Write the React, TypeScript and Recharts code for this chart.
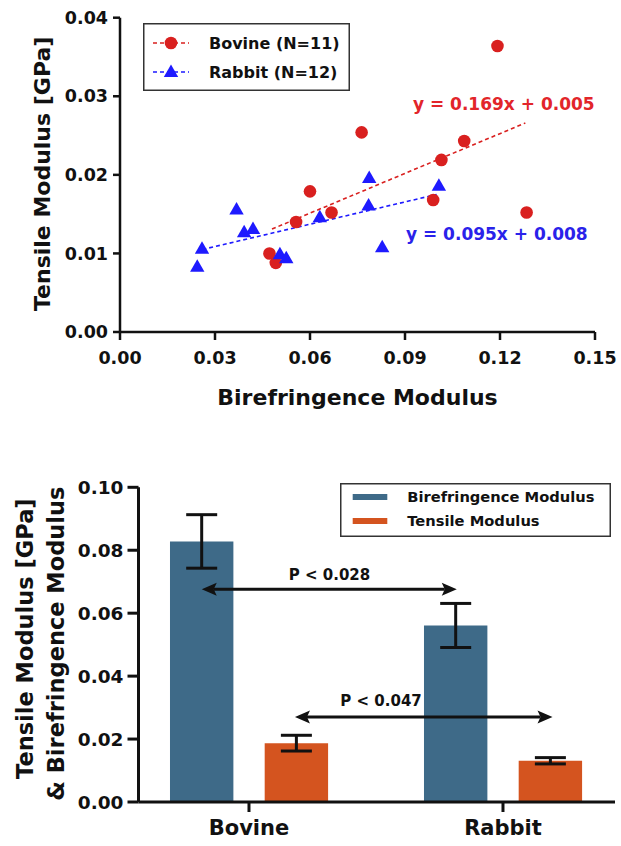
import React from 'react';
import {
    ScatterChart,
    Scatter,
    BarChart,
    Bar,
    ErrorBar,
    XAxis,
    YAxis,
    ReferenceLine,
    ReferenceDot,
    Legend,
} from 'recharts';

const FONT = '"DejaVu Sans", Arial, sans-serif';
const RED = '#d9201f';
const RED_TEXT = '#e2252a';
const BLUE = '#1e1aff';
const BLUE_TEXT = '#2a22ea';
const STEEL = '#3e6a88';
const ORANGE = '#d4541f';
const INK = '#111';

// scatter: birefringence vs tensile modulus
const bovineX = [0.1192, 0.0763, 0.1087, 0.1015, 0.06, 0.0989, 0.1284, 0.0668, 0.0556, 0.0472, 0.0492];
const bovineY = [0.0364, 0.0254, 0.0243, 0.0219, 0.0179, 0.0168, 0.0152, 0.0152, 0.014, 0.01, 0.0088];
const rabbitX = [0.0787, 0.1007, 0.0785, 0.0368, 0.0631, 0.042, 0.0392, 0.0259, 0.0828, 0.0505, 0.0525, 0.0244];
const rabbitY = [0.0196, 0.0186, 0.0161, 0.0156, 0.0146, 0.0131, 0.0127, 0.0106, 0.0108, 0.0099, 0.0094, 0.0083];
const bovineFit = [{ x: 0.048, y: 0.0131 }, { x: 0.128, y: 0.0266 }];
const rabbitFit = [{ x: 0.026, y: 0.0105 }, { x: 0.1, y: 0.0175 }];
const scatterXTicks = [0, 0.03, 0.06, 0.09, 0.12, 0.15];
const scatterYTicks = [0, 0.01, 0.02, 0.03, 0.04];

// bars: mean +/- error
const groups = ['Bovine', 'Rabbit'];
const birefringence = [0.0828, 0.0561];
const birefringenceErr = [0.0085, 0.007];
const tensile = [0.0187, 0.0131];
const tensileErr = [0.0025, 0.001];
const barYTicks = [0, 0.02, 0.04, 0.06, 0.08, 0.1];

const bovine = bovineX.map((x, i) => ({ x, y: bovineY[i] }));
const rabbit = rabbitX.map((x, i) => ({ x, y: rabbitY[i] }));
const barData = groups.map((name, i) => ({
    pos: i + 1,
    name,
    bire: birefringence[i],
    bireErr: birefringenceErr[i],
    tens: tensile[i],
    tensErr: tensileErr[i],
}));

const fmt2 = (v: number) => v.toFixed(2);

function RedDot(p: any) {
    return <circle cx={p.cx} cy={p.cy} r={6.3} fill={RED} />;
}

function BlueTri(p: any) {
    const { cx, cy } = p;
    return <polygon points={`${cx},${cy - 7.5} ${cx - 7.2},${cy + 5} ${cx + 7.2},${cy + 5}`} fill={BLUE} />;
}

function ScatterLegend() {
    return (
        <svg width={207} height={68} style={{ display: 'block' }}>
            <rect x={0.75} y={0.75} width={205.5} height={66.5} fill="#fff" stroke="#333" strokeWidth={1.5} />
            <line x1={10} y1={20} x2={46} y2={20} stroke={RED} strokeWidth={1.5} strokeDasharray="4 3" />
            <circle cx={28} cy={20} r={6.3} fill={RED} />
            <text x={66} y={20} dy="0.36em" fontFamily={FONT} fontWeight="bold" fontSize={16} fill={INK}>
                Bovine (N=11)
            </text>
            <line x1={10} y1={49} x2={46} y2={49} stroke={BLUE} strokeWidth={1.5} strokeDasharray="4 3" />
            <polygon points="28,41.5 20.8,54 35.2,54" fill={BLUE} />
            <text x={66} y={49} dy="0.36em" fontFamily={FONT} fontWeight="bold" fontSize={16} fill={INK}>
                Rabbit (N=12)
            </text>
        </svg>
    );
}

function BarLegend() {
    return (
        <svg width={271} height={54} style={{ display: 'block' }}>
            <rect x={0.75} y={0.75} width={269.5} height={52.5} fill="#fff" stroke="#333" strokeWidth={1.5} />
            <rect x={12.7} y={11} width={34.6} height={6} fill={STEEL} />
            <text x={67.3} y={14} dy="0.36em" fontFamily={FONT} fontWeight="bold" fontSize={14.7} fill={INK}>
                Birefringence Modulus
            </text>
            <rect x={12.7} y={35} width={34.6} height={6} fill={ORANGE} />
            <text x={67.3} y={38} dy="0.36em" fontFamily={FONT} fontWeight="bold" fontSize={14.7} fill={INK}>
                Tensile Modulus
            </text>
        </svg>
    );
}

function DoubleArrow(p: any) {
    const { x1, y1, x2, y2 } = p;
    const L = 15;
    const H = 6.5;
    return (
        <g>
            <line x1={x1 + L - 3} y1={y1} x2={x2 - L + 3} y2={y2} stroke={INK} strokeWidth={3} />
            <polygon points={`${x1},${y1} ${x1 + L},${y1 - H} ${x1 + L - 3},${y1} ${x1 + L},${y1 + H}`} fill={INK} />
            <polygon points={`${x2},${y2} ${x2 - L},${y2 - H} ${x2 - L + 3},${y2} ${x2 - L},${y2 + H}`} fill={INK} />
        </g>
    );
}

function textAt(label: string, size: number) {
    return (p: any) => (
        <text x={p.cx} y={p.cy} dy="0.36em" textAnchor="middle" fontFamily={FONT} fontWeight="bold" fontSize={size} fill={INK}>
            {label}
        </text>
    );
}

function equationAt(label: string, color: string) {
    return (p: any) => (
        <text x={p.cx} y={p.cy} dy="0.36em" textAnchor="start" fontFamily={FONT} fontWeight="bold" fontSize={17} fill={color}>
            {label}
        </text>
    );
}

function ScatterPanel() {
    const tick = { fontSize: 17.5, fontWeight: 'bold', fill: INK, fontFamily: FONT };
    return (
        <ScatterChart width={621} height={420} margin={{ top: 17.7, right: 26, bottom: 0, left: 0 }}>
            <XAxis
                type="number"
                dataKey="x"
                domain={[0, 0.15]}
                ticks={scatterXTicks}
                tickFormatter={fmt2}
                interval={0}
                height={88}
                tick={tick}
                tickSize={8}
                tickMargin={12}
                stroke={INK}
                strokeWidth={2.5}
                allowDataOverflow
                label={{
                    content: (props: any) => {
                        const vb = props.viewBox;
                        return (
                            <text x={vb.x + vb.width / 2} y={397} dy="0.36em" textAnchor="middle" fontFamily={FONT} fontWeight="bold" fontSize={22} fill={INK}>
                                Birefringence Modulus
                            </text>
                        );
                    },
                }}
            />
            <YAxis
                type="number"
                dataKey="y"
                domain={[0, 0.04]}
                ticks={scatterYTicks}
                tickFormatter={fmt2}
                interval={0}
                width={120}
                tick={tick}
                tickSize={7}
                tickMargin={5}
                stroke={INK}
                strokeWidth={2.5}
                allowDataOverflow
                label={{
                    content: (props: any) => {
                        const vb = props.viewBox;
                        const cy = vb.y + vb.height / 2 - 1;
                        return (
                            <text x={42} y={cy} dy="0.36em" transform={`rotate(-90 42 ${cy})`} textAnchor="middle" fontFamily={FONT} fontWeight="bold" fontSize={22} fill={INK}>
                                Tensile Modulus [GPa]
                            </text>
                        );
                    },
                }}
            />
            <ReferenceLine segment={rabbitFit} stroke={BLUE} strokeWidth={1.6} strokeDasharray="4 3" />
            <ReferenceLine segment={bovineFit} stroke={RED} strokeWidth={1.6} strokeDasharray="4 3" />
            <Scatter name="Bovine (N=11)" data={bovine} shape={RedDot} isAnimationActive={false} />
            <Scatter name="Rabbit (N=12)" data={rabbit} shape={BlueTri} isAnimationActive={false} />
            <ReferenceDot x={0.0925} y={0.029} r={0} shape={equationAt('y = 0.169x + 0.005', RED_TEXT)} />
            <ReferenceDot x={0.0903} y={0.0125} r={0} shape={equationAt('y = 0.095x + 0.008', BLUE_TEXT)} />
            <Legend
                verticalAlign="middle"
                align="center"
                content={() => <ScatterLegend />}
                wrapperStyle={{ left: 143, top: 22.5, width: 207, height: 68 }}
            />
        </ScatterChart>
    );
}

function BarPanel() {
    return (
        <BarChart
            width={621}
            height={406}
            data={barData}
            margin={{ top: 47.3, right: 6, bottom: 0, left: 0 }}
            barSize={63.4}
            barGap={31.3}
        >
            <XAxis
                type="number"
                dataKey="pos"
                domain={[0.565, 2.441]}
                ticks={[1, 2]}
                tickFormatter={(v: number) => groups[v - 1]}
                interval={0}
                height={44}
                tick={{ fontSize: 21, fontWeight: 'bold', fill: INK, fontFamily: FONT }}
                tickSize={10}
                tickMargin={8}
                stroke={INK}
                strokeWidth={3}
                allowDataOverflow
            />
            <YAxis
                type="number"
                domain={[0, 0.1]}
                ticks={barYTicks}
                tickFormatter={fmt2}
                interval={0}
                width={138.5}
                tick={{ fontSize: 18.5, fontWeight: 'bold', fill: INK, fontFamily: FONT }}
                tickSize={11}
                tickMargin={4}
                stroke={INK}
                strokeWidth={3}
                allowDataOverflow
                label={{
                    content: (props: any) => {
                        const vb = props.viewBox;
                        const c1 = vb.y + vb.height / 2 - 6;
                        const c2 = vb.y + vb.height / 2 - 1;
                        return (
                            <g>
                                <text x={24.5} y={c1} dy="0.36em" transform={`rotate(-90 24.5 ${c1})`} textAnchor="middle" fontFamily={FONT} fontWeight="bold" fontSize={22.5} fill={INK}>
                                    Tensile Modulus [GPa]
                                </text>
                                <text x={55.4} y={c2} dy="0.36em" transform={`rotate(-90 55.4 ${c2})`} textAnchor="middle" fontFamily={FONT} fontWeight="bold" fontSize={22.5} fill={INK}>
                                    & Birefringence Modulus
                                </text>
                            </g>
                        );
                    },
                }}
            />
            <Bar dataKey="bire" name="Birefringence Modulus" fill={STEEL} isAnimationActive={false}>
                <ErrorBar dataKey="bireErr" width={15.5} strokeWidth={3} stroke={INK} direction="y" />
            </Bar>
            <Bar dataKey="tens" name="Tensile Modulus" fill={ORANGE} isAnimationActive={false}>
                <ErrorBar dataKey="tensErr" width={15.5} strokeWidth={3} stroke={INK} direction="y" />
            </Bar>
            <ReferenceLine segment={[{ x: 0.814, y: 0.0676 }, { x: 1.818, y: 0.0676 }]} shape={DoubleArrow} />
            <ReferenceLine segment={[{ x: 1.181, y: 0.027 }, { x: 2.195, y: 0.027 }]} shape={DoubleArrow} />
            <ReferenceDot x={1.317} y={0.0724} r={0} shape={textAt('P < 0.028', 15)} />
            <ReferenceDot x={1.52} y={0.0323} r={0} shape={textAt('P < 0.047', 15)} />
            <Legend
                verticalAlign="middle"
                align="center"
                content={() => <BarLegend />}
                wrapperStyle={{ left: 340, top: 42.7, width: 271, height: 54 }}
            />
        </BarChart>
    );
}

export default function App() {
    return (
        <div style={{ position: 'absolute', left: 0, top: 0, width: 621, height: 846, background: '#fff' }}>
            <div style={{ position: 'absolute', left: 0, top: 0 }}>
                <ScatterPanel />
            </div>
            <div style={{ position: 'absolute', left: 0, top: 440 }}>
                <BarPanel />
            </div>
        </div>
    );
}
